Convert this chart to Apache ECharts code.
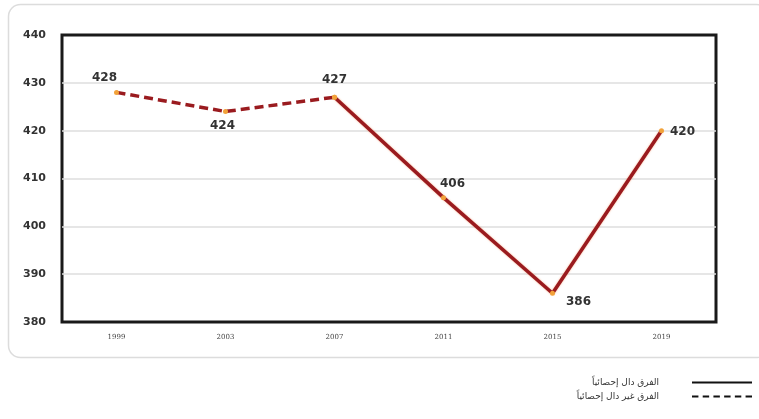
<!DOCTYPE html>
<html>
<head>
<meta charset="utf-8">
<script src="https://cdn.jsdelivr.net/npm/echarts@6/dist/echarts.min.js"></script>
<style>
  html, body { margin: 0; padding: 0; background: #fff; }
  #chart { width: 759px; height: 419px; }
</style>
</head>
<body>
<div id="chart"></div>
<script>
const years = ['1999', '2003', '2007', '2011', '2015', '2019']
const scores = [428, 424, 427, 406, 386, 420]
// the first three points are joined by a dashed line, the rest by a solid one
const dashedUpTo = 2
const yTicks = { min: 380, max: 440, interval: 10 }
const legendSolid = 'الفرق دال إحصائياً'
const legendDashed = 'الفرق غير دال إحصائياً'

const labelPos = [
  { position: 'top', offset: [-12, -3] },
  { position: 'bottom', offset: [-3, 3] },
  { position: 'top', offset: [0, -6] },
  { position: 'top', offset: [9, -2] },
  { position: 'right', offset: [8, 9] },
  { position: 'right', offset: [3, 1] }
]

const dashedData = scores.map((v, i) => i <= dashedUpTo ? v : '-')
const solidData = scores.map((v, i) => i >= dashedUpTo ? v : '-')
const labelData = scores.map((v, i) => ({ value: v, label: labelPos[i] }))

const lineColor = '#9a1b1f'
const dotStyle = { color: '#f2a23a', borderWidth: 0 }

const chart = echarts.init(document.getElementById('chart'))
chart.setOption({
  animation: false,
  graphic: [{
    type: 'rect',
    shape: { x: 8.5, y: 4.5, width: 760, height: 353, r: 12 },
    style: { fill: 'none', stroke: '#dcdcdc', lineWidth: 1.5 },
    silent: true
  }],
  grid: {
    left: 62,
    right: 43,
    top: 35,
    bottom: 97,
    show: true,
    borderColor: '#1a1a1a',
    borderWidth: 3
  },
  legend: {
    orient: 'vertical',
    right: 2,
    top: 373,
    align: 'right',
    itemWidth: 60,
    itemHeight: 10,
    itemGap: 5,
    textStyle: { fontFamily: 'DejaVu Sans', fontSize: 9, color: '#333', padding: [0, 28, 0, 0] },
    data: [
      { name: legendSolid, icon: 'path://M0,0 L60,0 L60,2 L0,2 Z', itemStyle: { color: '#111' } },
      { name: legendDashed, icon: 'path://M0,0 L6,0 L6,2 L0,2 Z M10,0 L16,0 L16,2 L10,2 Z M20,0 L26,0 L26,2 L20,2 Z M30,0 L36,0 L36,2 L30,2 Z M40,0 L46,0 L46,2 L40,2 Z M50,0 L56,0 L56,2 L50,2 Z', itemStyle: { color: '#111' } }
    ]
  },
  xAxis: {
    type: 'category',
    data: years,
    boundaryGap: true,
    axisLine: { show: false },
    axisTick: { show: false },
    axisLabel: { fontFamily: 'DejaVu Serif', fontSize: 7, color: '#444', margin: 12 }
  },
  yAxis: {
    type: 'value',
    min: yTicks.min,
    max: yTicks.max,
    interval: yTicks.interval,
    axisLine: { show: false },
    axisTick: { show: false },
    splitLine: { showMinLine: false, showMaxLine: false, lineStyle: { color: '#dedede', width: 1.5 } },
    axisLabel: { fontFamily: 'DejaVu Sans', fontWeight: 'bold', fontSize: 11, color: '#333', margin: 16 }
  },
  series: [
    {
      name: legendDashed,
      type: 'line',
      data: dashedData,
      symbol: 'circle',
      symbolSize: 5,
      itemStyle: dotStyle,
      lineStyle: { color: lineColor, width: 3.5, type: [9, 5] },
      z: 3
    },
    {
      name: legendSolid,
      type: 'line',
      data: solidData,
      symbol: 'circle',
      symbolSize: 5,
      itemStyle: dotStyle,
      lineStyle: { color: lineColor, width: 3.5, shadowColor: 'rgba(240,120,60,0.6)', shadowBlur: 2 },
      z: 3
    },
    {
      name: 'labels',
      type: 'line',
      data: labelData,
      symbol: 'circle',
      symbolSize: 1,
      itemStyle: { color: 'rgba(0,0,0,0)' },
      lineStyle: { opacity: 0 },
      label: {
        show: true,
        fontFamily: 'DejaVu Sans',
        fontWeight: 'bold',
        fontSize: 12,
        color: '#333'
      },
      z: 4
    }
  ]
})
</script>
</body>
</html>
